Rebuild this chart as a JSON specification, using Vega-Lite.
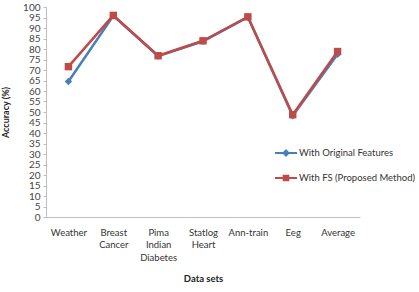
{
  "$schema": "https://vega.github.io/schema/vega-lite/v6.json",
  "width": 314,
  "height": 210,
  "autosize": {"type": "none"},
  "padding": {"left": 46, "top": 7, "right": 59, "bottom": 75},
  "background": "white",
  "config": {
    "view": {"stroke": null},
    "font": "Lato"
  },
  "data": {
    "values": [
      {"dataset": "Weather", "series": "With Original  Features", "acc": 64.5},
      {"dataset": "Breast Cancer", "series": "With Original  Features", "acc": 95.8},
      {"dataset": "Pima Indian Diabetes", "series": "With Original  Features", "acc": 76.6},
      {"dataset": "Statlog Heart", "series": "With Original  Features", "acc": 83.7},
      {"dataset": "Ann-train", "series": "With Original  Features", "acc": 95.2},
      {"dataset": "Eeg", "series": "With Original  Features", "acc": 48.2},
      {"dataset": "Average", "series": "With Original  Features", "acc": 77.5},
      {"dataset": "Weather", "series": "With FS  (Proposed Method)", "acc": 71.6},
      {"dataset": "Breast Cancer", "series": "With FS  (Proposed Method)", "acc": 96.0},
      {"dataset": "Pima Indian Diabetes", "series": "With FS  (Proposed Method)", "acc": 76.8},
      {"dataset": "Statlog Heart", "series": "With FS  (Proposed Method)", "acc": 83.9},
      {"dataset": "Ann-train", "series": "With FS  (Proposed Method)", "acc": 95.3},
      {"dataset": "Eeg", "series": "With FS  (Proposed Method)", "acc": 48.7},
      {"dataset": "Average", "series": "With FS  (Proposed Method)", "acc": 78.8}
    ]
  },
  "encoding": {
    "x": {
      "field": "dataset",
      "type": "nominal",
      "sort": ["Weather", "Breast Cancer", "Pima Indian Diabetes", "Statlog Heart", "Ann-train", "Eeg", "Average"],
      "title": "Data sets",
      "axis": {
        "labelAngle": 0,
        "labelExpr": "split(datum.label, ' ')",
        "labelLineHeight": 12.5,
        "labelPadding": 10,
        "labelFontSize": 9.5,
        "labelColor": "#333333",
        "ticks": false,
        "domainColor": "#bfbfbf",
        "titleFontSize": 9.5,
        "titleFontWeight": "bold",
        "titleColor": "#222222",
        "titlePadding": 12
      }
    },
    "y": {
      "field": "acc",
      "type": "quantitative",
      "title": "Accuracy  (%)",
      "scale": {"domain": [0, 100], "nice": false},
      "axis": {
        "values": [0,5,10,15,20,25,30,35,40,45,50,55,60,65,70,75,80,85,90,95,100],
        "labelOverlap": false,
        "grid": false,
        "labelFontSize": 10,
        "labelColor": "#444444",
        "tickSize": 3,
        "tickColor": "#bfbfbf",
        "domainColor": "#bfbfbf",
        "labelPadding": 3,
        "titleFontSize": 9,
        "titleFontWeight": "bold",
        "titleColor": "#222222",
        "titlePadding": 12
      }
    }
  },
  "resolve": {"scale": {"shape": "independent"}, "legend": {"shape": "independent"}},
  "layer": [
    {
      "mark": {"type": "line", "strokeWidth": 2.5},
      "encoding": {
        "color": {
          "field": "series",
          "type": "nominal",
          "sort": ["With Original  Features", "With FS  (Proposed Method)"],
          "scale": {"range": ["#4a7ebb", "#be4b48"]},
          "legend": null
        }
      }
    },
    {
      "mark": {"type": "point", "filled": true, "size": 55, "opacity": 1},
      "encoding": {
        "color": {
          "field": "series",
          "type": "nominal",
          "sort": ["With Original  Features", "With FS  (Proposed Method)"],
          "legend": null
        },
        "shape": {
          "field": "series",
          "type": "nominal",
          "sort": ["With Original  Features", "With FS  (Proposed Method)"],
          "scale": {"range": ["diamond", "square"]},
          "legend": null
        }
      }
    },
    {
      "transform": [{"filter": "datum.series === 'With Original  Features'"}],
      "mark": {"type": "point", "filled": true, "size": 484, "opacity": 0, "color": "#4a7ebb"},
      "encoding": {
        "shape": {
          "field": "series",
          "type": "nominal",
          "scale": {"domain": ["With Original  Features"], "range": ["M-1,-0.09H1V0.09H-1Z M0,-0.36L0.36,0L0,0.36L-0.36,0Z"]},
          "legend": {
            "title": null,
            "orient": "none",
            "legendX": 229,
            "legendY": 135,
            "symbolSize": 484,
            "symbolOpacity": 1,
            "symbolFillColor": "#4a7ebb",
            "symbolStrokeWidth": 0,
            "labelFontSize": 9.5,
            "labelColor": "#333333",
            "labelOffset": 2
          }
        }
      }
    },
    {
      "transform": [{"filter": "datum.series === 'With FS  (Proposed Method)'"}],
      "mark": {"type": "point", "filled": true, "size": 484, "opacity": 0, "color": "#be4b48"},
      "encoding": {
        "shape": {
          "field": "series",
          "type": "nominal",
          "scale": {"domain": ["With FS  (Proposed Method)"], "range": ["M-1,-0.1H1V0.1H-1Z M-0.3,-0.3H0.3V0.3H-0.3Z"]},
          "legend": {
            "title": null,
            "orient": "none",
            "legendX": 229,
            "legendY": 160,
            "symbolSize": 484,
            "symbolOpacity": 1,
            "symbolFillColor": "#be4b48",
            "symbolStrokeWidth": 0,
            "labelFontSize": 9.5,
            "labelColor": "#333333",
            "labelOffset": 2
          }
        }
      }
    }
  ]
}
